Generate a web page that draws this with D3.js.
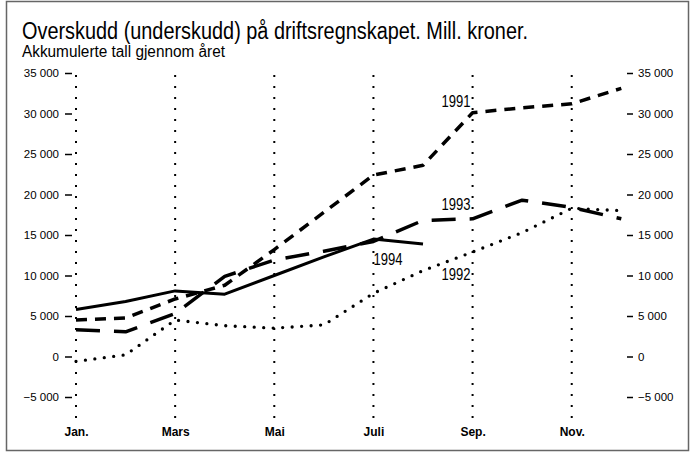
<!DOCTYPE html>
<html>
<head>
<meta charset="utf-8">
<script src="https://cdn.jsdelivr.net/npm/d3@7"></script>
<style>
  body { margin: 0; background: #fff; }
  svg { display: block; font-family: "Liberation Sans", Arial, sans-serif; }
</style>
</head>
<body>
<div id="chart"></div>
<script>
// months, Jan..Dec (index 0..11)
var months = ['Jan.', 'Feb.', 'Mars', 'Apr.', 'Mai', 'Juni', 'Juli', 'Aug.', 'Sep.', 'Okt.', 'Nov.', 'Des.'];
var monthTicks = [0, 2, 4, 6, 8, 10];
var yTicks = [-5000, 0, 5000, 10000, 15000, 20000, 25000, 30000, 35000];

// accumulated result, mill. kroner
var v1991 = [4500, 4750, 7100, 8800, 13200, 17800, 22400, 23600, 30100, 30700, 31200, 33100];
var v1992 = [-600, 200, 4500, 3800, 3500, 3900, 7800, 10600, 12900, 15300, 18300, 18000];
var v1993 = [3300, 3050, 5300, 9900, 11900, 13000, 14200, 16800, 17000, 19300, 18400, 17000];
var v1994 = [5800, 6800, 8100, 7700, 10000, 12300, 14500, 13900];

var seriesLabels = [
    { text: '1991', m: 8, v: 30800, anchor: 'end', dx: -2 },
    { text: '1993', m: 8, v: 18100, anchor: 'end', dx: -2 },
    { text: '1992', m: 8, v: 9400, anchor: 'end', dx: -2 },
    { text: '1994', m: 6, v: 11300, anchor: 'start', dx: 0 }
];

var width = 691, height = 458;

var svg = d3.select('#chart').append('svg')
    .attr('width', width)
    .attr('height', height);

// frame
svg.append('rect')
    .attr('x', 6.5).attr('y', 1.5)
    .attr('width', 682).attr('height', 449)
    .attr('fill', 'none')
    .attr('stroke', '#666')
    .attr('stroke-width', 1.5);

svg.append('text')
    .attr('x', 22).attr('y', 39)
    .attr('font-size', 23)
    .attr('textLength', 506)
    .attr('lengthAdjust', 'spacingAndGlyphs')
    .text('Overskudd (underskudd) på driftsregnskapet. Mill. kroner.');

svg.append('text')
    .attr('x', 22).attr('y', 57)
    .attr('font-size', 16)
    .attr('textLength', 203)
    .attr('lengthAdjust', 'spacingAndGlyphs')
    .text('Akkumulerte tall gjennom året');

var x = d3.scaleLinear().domain([0, 11]).range([76, 621.3]);
var y = d3.scaleLinear().domain([-5000, 35000]).range([397, 73]);

var fmt = function(d) {
    return d3.format(',')(d).replace(/,/g, ' ');
};

// vertical dotted month lines
svg.append('g')
    .selectAll('line')
    .data(monthTicks)
    .enter().append('line')
    .attr('x1', function(d) { return x(d); })
    .attr('x2', function(d) { return x(d); })
    .attr('y1', y(35000) + 2)
    .attr('y2', 418)
    .attr('stroke', '#000')
    .attr('stroke-width', 2)
    .attr('stroke-dasharray', '2,9');

var leftAxis = svg.append('g')
    .attr('transform', 'translate(72,0)')
    .call(d3.axisLeft(y).tickValues(yTicks).tickFormat(fmt).tickSize(7).tickPadding(6));

var rightAxis = svg.append('g')
    .attr('transform', 'translate(627,0)')
    .call(d3.axisRight(y).tickValues(yTicks).tickFormat(fmt).tickSize(6).tickPadding(5));

var monthAxis = svg.append('g')
    .attr('transform', 'translate(0,420)')
    .call(d3.axisBottom(x).tickValues(monthTicks).tickFormat(function(d) { return months[d]; }).tickSize(0).tickPadding(7));

[leftAxis, rightAxis, monthAxis].forEach(function(g) {
    g.select('.domain').remove();
    g.selectAll('text').attr('font-family', null).attr('font-size', 11.5).attr('fill', '#000');
    g.selectAll('.tick line').attr('stroke', '#000').attr('stroke-width', 1.5);
});
monthAxis.selectAll('text').attr('font-weight', 'bold').attr('font-size', 12);

var line = d3.line()
    .x(function(d, i) { return x(i); })
    .y(function(d) { return y(d); });

var series = [
    { values: v1992, dash: '0,9.5', width: 3.3, cap: 'round' },
    { values: v1994, dash: null, width: 3, cap: 'butt' },
    { values: v1993, dash: '24,14', width: 3.5, cap: 'butt' },
    { values: v1991, dash: '11,8', width: 3.5, cap: 'butt' }
];

svg.append('g')
    .selectAll('path')
    .data(series)
    .enter().append('path')
    .attr('d', function(d) { return line(d.values); })
    .attr('fill', 'none')
    .attr('stroke', '#000')
    .attr('stroke-width', function(d) { return d.width; })
    .attr('stroke-linecap', function(d) { return d.cap; })
    .attr('stroke-linejoin', 'round')
    .attr('stroke-dasharray', function(d) { return d.dash; });

svg.append('g')
    .selectAll('text')
    .data(seriesLabels)
    .enter().append('text')
    .attr('x', function(d) { return x(d.m) + d.dx; })
    .attr('y', function(d) { return y(d.v); })
    .attr('text-anchor', function(d) { return d.anchor; })
    .attr('font-size', 16.5)
    .attr('textLength', 29)
    .attr('lengthAdjust', 'spacingAndGlyphs')
    .text(function(d) { return d.text; });
</script>
</body>
</html>
